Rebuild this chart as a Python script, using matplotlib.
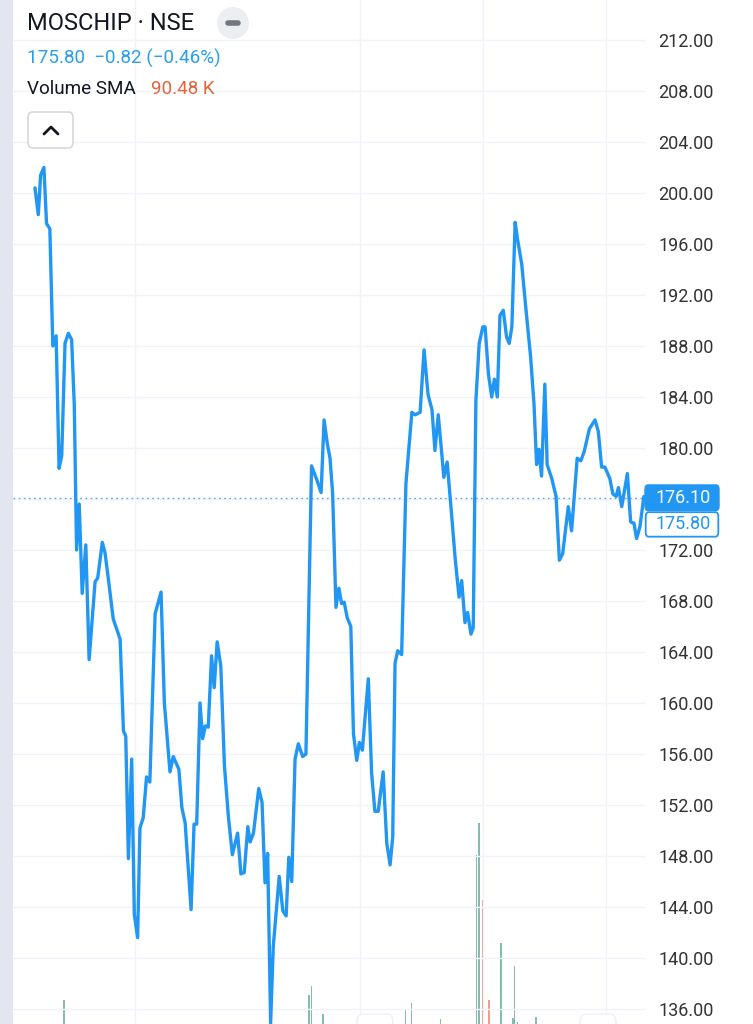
import matplotlib
matplotlib.use("Agg")
import matplotlib.pyplot as plt
from matplotlib.patches import FancyBboxPatch, Ellipse, Rectangle
from matplotlib.lines import Line2D
import matplotlib.ticker as mticker

plt.rcParams['font.family'] = ['Roboto', 'DejaVu Sans']

# ---------------- data ----------------
symbol = "MOSCHIP · NSE"
last_price = 175.80
change = -0.82
change_pct = -0.46
current_line = 176.10
volume_sma_k = 90.48

# session index (trading days) and close prices
day = [0.0, 1.0, 1.7, 2.7, 3.5, 4.5, 5.4, 6.4, 7.3, 8.1, 9.1, 10.1, 11.1, 11.9, 12.6,
       13.4, 14.3, 15.4, 16.4, 18.2, 19.0, 20.4, 21.2, 22.2, 23.7, 25.8, 26.8, 27.5,
       28.3, 29.3, 30.1, 31.1, 31.8, 32.8, 33.8, 34.8, 36.4, 38.2, 39.2, 40.9, 41.9,
       43.6, 44.5, 45.5, 47.3, 48.2, 49.0, 50.0, 50.8, 51.6, 52.5, 53.5, 54.3, 55.2,
       56.3, 57.4, 58.6, 59.8, 61.4, 62.4, 63.4, 64.5, 65.2, 66.2, 67.8, 68.8, 69.7,
       70.5, 71.4, 72.2, 74.0, 75.1, 76.1, 76.9, 77.8, 78.8, 79.8, 81.1, 82.1, 82.8,
       83.8, 85.4, 86.7, 87.6, 88.6, 89.4, 90.2, 91.2, 92.1, 92.9, 93.7, 94.6, 95.7,
       96.5, 97.5, 98.3, 99.2, 101.0, 102.0, 103.0, 104.0, 105.5, 106.6, 107.6, 108.4,
       109.1, 109.9, 111.1, 112.4, 114.2, 115.2, 116.7, 117.9, 119.1, 120.3, 121.2,
       122.2, 123.9, 124.9, 126.3, 127.3, 128.5, 129.3, 130.3, 131.1, 132.1, 132.8,
       133.6, 134.6, 135.7, 136.4, 137.4, 138.4, 139.2, 140.1, 140.9, 141.9, 142.9,
       143.7, 144.5, 145.5, 146.2, 147.5, 148.8, 150.2, 151.2, 152.0, 152.7, 153.5,
       154.5, 155.2, 156.6, 157.9, 158.9, 159.9, 161.6, 162.6, 164.3, 165.4, 166.4,
       168.0, 169.7, 170.7, 171.7, 172.7, 174.2, 175.1, 176.1, 176.8, 177.8, 179.5,
       180.5, 181.5, 182.3, 183.3, 184.5, 185.4]
close = [200.4, 198.3, 201.4, 202.0, 197.6, 197.2, 188.0, 188.8, 178.4, 179.4, 188.2,
         189.0, 188.5, 183.4, 172.0, 175.6, 168.6, 172.4, 163.4, 169.5, 169.8, 172.6,
         171.8, 169.8, 166.6, 165.0, 157.8, 157.4, 147.8, 155.6, 143.4, 141.6, 150.2,
         151.0, 154.2, 153.8, 167.0, 168.7, 160.0, 154.6, 155.8, 154.8, 151.8, 150.6,
         143.8, 150.5, 150.5, 160.0, 157.2, 158.2, 158.1, 163.7, 161.2, 164.8, 162.9,
         155.1, 151.1, 148.1, 149.8, 146.6, 146.7, 150.3, 149.1, 149.8, 153.3, 152.2,
         145.9, 148.2, 134.9, 140.9, 146.4, 143.7, 143.3, 147.9, 146.0, 155.6, 156.8,
         155.8, 156.0, 165.4, 178.6, 177.5, 176.5, 182.2, 180.3, 179.2, 176.4, 167.5,
         169.0, 167.8, 167.9, 166.7, 166.0, 157.6, 155.5, 156.9, 156.3, 161.9, 154.5,
         151.5, 151.5, 154.6, 149.0, 147.3, 149.5, 163.1, 164.1, 163.8, 177.2, 182.8,
         182.6, 182.8, 187.7, 184.2, 183.0, 179.8, 182.6, 177.7, 178.9, 174.6, 171.4,
         168.3, 169.6, 166.3, 167.1, 165.4, 165.9, 183.7, 188.2, 189.5, 189.5, 185.8,
         184.0, 185.4, 184.0, 190.4, 190.8, 188.7, 188.2, 189.5, 197.7, 196.4, 194.4,
         190.8, 187.1, 183.5, 178.7, 179.9, 177.8, 185.0, 178.7, 177.6, 176.2, 171.2,
         171.7, 175.4, 173.5, 179.2, 179.0, 179.7, 181.5, 182.2, 181.3, 178.5, 178.5,
         177.6, 176.4, 176.2, 176.9, 175.4, 178.0, 174.2, 174.1, 172.9, 173.8, 176.2,
         175.8]

# volume spikes visible above the bottom edge (thousands of shares)
vol_day = [8.8, 83.0, 83.8, 87.3, 112.3, 114.1, 122.9, 133.8, 134.5, 135.6, 137.5,
           141.1, 144.8, 145.3, 146.2, 151.8]
vol_k = [120, 145, 190, 50, 75, 105, 25, 845, 1005, 620, 120, 405, 30, 290, 10, 35]
vol_up = [True, True, True, True, True, True, True, True, True, False, False, True,
          True, True, True, True]

price_ticks = [136, 140, 144, 148, 152, 156, 160, 164, 168, 172, 176, 180, 184, 188,
               192, 196, 200, 204, 208, 212]
date_grid_days = [30.3, 98.5, 135.8, 173.0]

# ---------------- style ----------------
W, H = 753, 1024
BLUE = "#2196F3"
TEXT = "#131722"
ORANGE = "#E4643A"
GRID = "#F0F3FA"

fig = plt.figure(figsize=(W / 100, H / 100), dpi=100)
fig.patch.set_facecolor("white")


def fx(x):
    return x / W


def fy(y):
    return 1 - y / H


ax_left, ax_right = 13, 645
rect = [fx(ax_left), 0, fx(ax_right) - fx(ax_left), 1]
px_per_day = 3.3
xlim = ((ax_left - 35) / px_per_day, (ax_right - 35) / px_per_day)

# volume overlay (separate axes underneath)
axv = fig.add_axes(rect)
axv.set_xlim(*xlim)
axv.set_ylim(0, 5 * H)
axv.axis("off")
vcolors = ["#86BBAE" if u else "#EBA08E" for u in vol_up]

ax = fig.add_axes(rect)
ax.patch.set_visible(False)
ppu = 12.75
ax.set_ylim(212 - (H - 40) / ppu, 212 + 40 / ppu)
ax.set_xlim(*xlim)
for s in ax.spines.values():
    s.set_visible(False)


def price_fmt(v, pos):
    # the label hidden under the price marker boxes is not shown
    if abs(v - current_line) < 1.5:
        return ""
    return f"{v:.2f}"


ax.yaxis.tick_right()
ax.set_yticks(price_ticks)
ax.yaxis.set_major_formatter(mticker.FuncFormatter(price_fmt))
ax.tick_params(axis="y", length=0, pad=9.5, labelsize=13, labelcolor="#333333",
               left=False, labelleft=False, right=False, labelright=True)
ax.set_xticks(date_grid_days)
ax.tick_params(axis="x", length=0, labelbottom=False)
ax.grid(True, color=GRID, linewidth=1, zorder=0)
ax.set_axisbelow(True)

axv.bar(vol_day, vol_k, width=0.55, color=vcolors, zorder=1)

# price line
ax.plot(day, close, color=BLUE, linewidth=2.4, solid_joinstyle="round",
        solid_capstyle="round", zorder=3)
ax.axhline(current_line, color=BLUE, linewidth=1.0, linestyle=(0, (1.2, 2.5)),
           alpha=0.8, zorder=2)

# price marker boxes on the scale (pixel-sized, anchored at the current line)
y_disp = ax.transData.transform((0, current_line))[1]
y_px = H - y_disp  # from top
box_x0, box_x1 = 645, 719
box_h = 25.5
fig.patches.append(FancyBboxPatch((fx(box_x0), fy(y_px + box_h / 2)), fx(box_x1) - fx(box_x0),
                                  box_h / H, boxstyle="round,pad=0,rounding_size=0.004",
                                  transform=fig.transFigure, fc=BLUE, ec=BLUE, lw=1,
                                  zorder=6))
fig.text(fx((box_x0 + box_x1) / 2 + 1), fy(y_px), f"{current_line:.2f}", fontsize=13,
         color="white", ha="center", va="center", zorder=7)
y2 = y_px + box_h + 1.2
fig.patches.append(FancyBboxPatch((fx(box_x0 + 0.7), fy(y2 + box_h / 2 - 0.5)),
                                  fx(box_x1 - 0.7) - fx(box_x0 + 0.7), (box_h - 1) / H,
                                  boxstyle="round,pad=0,rounding_size=0.004",
                                  transform=fig.transFigure, fc="white", ec=BLUE, lw=1.3,
                                  zorder=6))
fig.text(fx((box_x0 + box_x1) / 2 + 1), fy(y2), f"{last_price:.2f}", fontsize=13,
         color=BLUE, ha="center", va="center", zorder=7)

# left strip
fig.patches.append(Rectangle((0, 0), fx(13), 1, transform=fig.transFigure,
                             fc="#E3E5EF", ec="none", zorder=5))

# header texts
fig.text(fx(27), fy(23.5), symbol, fontsize=17, color=TEXT, ha="left", va="center")
chg = f"{last_price:.2f}  {change:+.2f} ({change_pct:+.2f}%)".replace("-", "\u2212")
fig.text(fx(27), fy(58), chg, fontsize=13.6, color="#2A9FE8", ha="left", va="center")
fig.text(fx(27), fy(89.5), "Volume SMA", fontsize=13.6, color=TEXT, ha="left", va="center")
fig.text(fx(151), fy(89.5), f"{volume_sma_k:.2f} K", fontsize=13.6, color=ORANGE,
         ha="left", va="center")

# collapse button (circle with minus)
fig.patches.append(Ellipse((fx(233), fy(23)), 32 / W, 32 / H, transform=fig.transFigure,
                           fc="#ECEEF2", ec="none", zorder=6))
fig.lines.append(Line2D([fx(228), fx(238)], [fy(23), fy(23)], transform=fig.transFigure,
                        color="#74777F", linewidth=4, solid_capstyle="round", zorder=7))

# up-arrow button
fig.patches.append(FancyBboxPatch((fx(28), fy(148)), fx(73) - fx(28), fy(112) - fy(148),
                                  boxstyle="round,pad=0,rounding_size=0.006",
                                  transform=fig.transFigure, fc="white", ec="#D6D8DE",
                                  lw=1.2, zorder=6))
fig.lines.append(Line2D([fx(44), fx(51), fx(58)], [fy(134), fy(127), fy(134)],
                        transform=fig.transFigure, color=TEXT, linewidth=2.0,
                        solid_capstyle="round", solid_joinstyle="round", zorder=7))

# faint bottom buttons (partially visible)
for bx in (357, 580):
    fig.patches.append(FancyBboxPatch((fx(bx), fy(1030)), 36 / W, 16 / H,
                                      boxstyle="round,pad=0,rounding_size=0.008",
                                      transform=fig.transFigure, fc="white", ec="#EEF0F3",
                                      lw=1.0, zorder=6))

fig.savefig("out.png", dpi=100, facecolor="white")
